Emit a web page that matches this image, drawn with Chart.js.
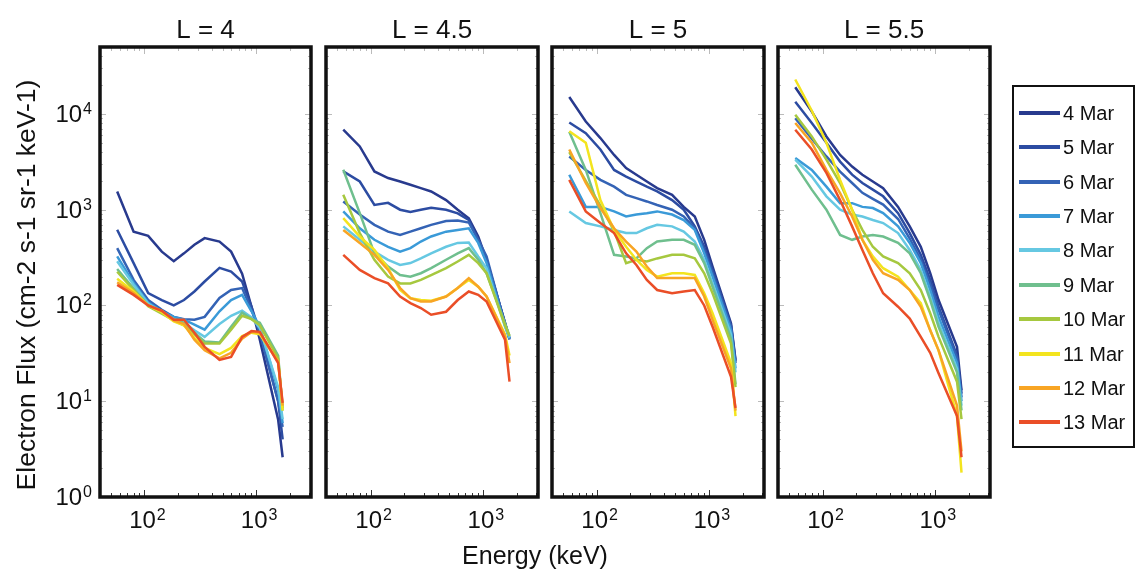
<!DOCTYPE html>
<html>
<head>
<meta charset="utf-8">
<script src="https://cdn.jsdelivr.net/npm/chart.js@4"></script>
<style>
  html, body { margin: 0; padding: 0; background: #fff; }
  #page { position: relative; width: 1143px; height: 582px; overflow: hidden; font-family: "Liberation Sans", Arial, sans-serif; }
  #page canvas { position: absolute; left: 0; top: 0; }
  #leyenda { position: absolute; left: 1012px; top: 85px; width: 119px; height: 359px; border: 2.5px solid #111; }
  .fila { position: absolute; left: 0; height: 22px; }
  .fila .linea { position: absolute; left: 5px; top: 9px; width: 41px; height: 4px; }
  .fila .texto { position: absolute; left: 49px; top: 0; font-size: 20px; line-height: 22px; color: #111; white-space: nowrap; }
</style>
</head>
<body>
<div id="page">
  <canvas id="c0" width="1143" height="582"></canvas>
  <canvas id="c1" width="1143" height="582"></canvas>
  <canvas id="c2" width="1143" height="582"></canvas>
  <canvas id="c3" width="1143" height="582"></canvas>
  <div id="leyenda"></div>
</div>
<script>
// Canales de energía (keV)
const energias = [57, 80, 108, 143, 183, 226, 280, 346, 470, 597, 749, 909, 1079, 1575, 1728];

const dias = ['4 Mar', '5 Mar', '6 Mar', '7 Mar', '8 Mar', '9 Mar', '10 Mar', '11 Mar', '12 Mar', '13 Mar'];
const coloresDias = ['#283a8e', '#2c4ca2', '#3463b5', '#3a9ad8', '#66c8e2', '#6fbf8e', '#a6c83f', '#f3e41e', '#f8a524', '#ea4e27'];

const titulos = ['L = 4', 'L = 4.5', 'L = 5', 'L = 5.5'];

// Flujo de electrones (cm-2 s-1 sr-1 keV-1), una fila por día
const flujoL4 = [
  [1550, 590, 533, 365, 290, 350, 430, 505, 465, 365, 215, 97, 44, 6.4, 2.6],
  [617, 277, 135, 114, 100, 114, 140, 178, 247, 226, 178, 97, 52, 10, 4],
  [397, 185, 114, 90, 76, 72, 71, 76, 120, 145, 152, 90, 52, 10, 5.4],
  [325, 172, 107, 87, 76, 71, 63, 56, 87, 114, 129, 87, 60, 13, 5.9],
  [290, 165, 105, 85, 72, 66, 55, 47, 64, 78, 88, 75, 58, 14, 6.5],
  [240, 150, 100, 85, 72, 66, 52, 42, 41, 60, 84, 72, 66, 30, 8],
  [225, 145, 98, 82, 70, 62, 50, 40, 40, 56, 78, 72, 62, 28, 8.5],
  [190, 140, 100, 85, 68, 62, 46, 36, 31, 36, 48, 52, 50, 26, 8],
  [175, 135, 100, 88, 70, 64, 44, 34, 28, 32, 45, 53, 52, 26, 9],
  [164, 129, 100, 88, 71, 71, 52, 37, 27, 29, 47, 54, 53, 25, 9.6]
];

const flujoL45 = [
  [6840, 4580, 2510, 2140, 1970, 1820, 1680, 1550, 1260, 1000, 815, 525, 300, 66, 45],
  [2510, 1970, 1120, 1180, 1000, 945, 1000, 1050, 1000, 915, 780, 485, 300, 66, 45],
  [1220, 890, 695, 590, 545, 590, 640, 695, 760, 770, 735, 485, 325, 64, 44],
  [960, 640, 485, 410, 365, 397, 465, 525, 590, 615, 640, 450, 277, 62, 45],
  [670, 485, 365, 300, 265, 277, 310, 350, 410, 450, 455, 325, 245, 60, 46],
  [2610, 920, 350, 255, 208, 200, 217, 245, 300, 350, 397, 300, 217, 65, 48],
  [1430, 570, 300, 200, 170, 170, 185, 208, 245, 288, 338, 277, 217, 62, 48],
  [815, 525, 380, 245, 145, 119, 114, 112, 124, 152, 185, 157, 124, 50, 30],
  [615, 450, 338, 235, 152, 119, 110, 110, 124, 152, 193, 157, 124, 48, 25],
  [338, 235, 193, 170, 124, 106, 94, 80, 86, 114, 140, 129, 110, 44, 16]
];

const flujoL5 = [
  [15000, 8330, 5600, 3730, 2720, 2320, 1970, 1680, 1430, 1070, 850, 485, 255, 65, 27],
  [8150, 6300, 4250, 2600, 2220, 1970, 1740, 1550, 1260, 1000, 670, 410, 235, 62, 26],
  [3600, 2600, 2050, 1740, 1430, 1320, 1220, 1120, 1000, 850, 640, 380, 217, 60, 25],
  [2320, 1070, 1070, 960, 850, 890, 920, 960, 890, 780, 615, 350, 200, 55, 22],
  [960, 725, 670, 615, 570, 570, 640, 695, 670, 590, 465, 300, 170, 50, 20],
  [6500, 2600, 920, 338, 325, 310, 397, 465, 485, 485, 430, 277, 157, 45, 15],
  [4000, 2000, 1100, 600, 277, 300, 288, 310, 338, 338, 310, 217, 134, 40, 14],
  [6600, 5000, 1260, 615, 410, 300, 235, 200, 217, 217, 208, 134, 83, 25, 7],
  [4250, 1900, 1040, 640, 465, 365, 255, 193, 193, 193, 193, 124, 71, 22, 8],
  [2050, 960, 725, 570, 350, 265, 185, 145, 134, 140, 145, 100, 60, 18, 8.5]
];

const flujoL55 = [
  [19000, 10600, 5820, 3730, 2820, 2320, 1970, 1680, 1070, 670, 410, 217, 114, 37, 13],
  [13400, 8030, 5000, 3180, 2320, 1900, 1620, 1380, 920, 570, 338, 185, 97, 30, 12],
  [9000, 5500, 3600, 2500, 1900, 1500, 1300, 1130, 800, 500, 300, 165, 90, 28, 11],
  [3470, 2600, 1740, 1170, 1170, 1070, 1040, 920, 670, 450, 277, 145, 76, 25, 10],
  [3330, 2220, 1380, 1000, 890, 850, 780, 725, 570, 380, 235, 124, 66, 22, 9],
  [2950, 1620, 1000, 545, 485, 525, 545, 525, 450, 350, 217, 114, 60, 20, 8],
  [9800, 5820, 3330, 1900, 1000, 615, 410, 325, 277, 217, 145, 83, 47, 16, 6.5],
  [22900, 10800, 5000, 2050, 1000, 485, 325, 245, 200, 145, 106, 55, 34, 7, 1.8],
  [8030, 5000, 2600, 1490, 850, 485, 300, 217, 185, 145, 97, 55, 34, 9, 3],
  [6840, 4250, 2420, 1260, 670, 380, 217, 134, 97, 73, 47, 32, 19.6, 7, 2.6]
];

const flujos = [flujoL4, flujoL45, flujoL5, flujoL55];

// Ticks de los ejes
const ticksX = [100, 1000];
const ticksXMenores = [50, 60, 70, 80, 90, 200, 300, 400, 500, 600, 700, 800, 900, 2000, 3000];
const ticksY = [1, 10, 100, 1000, 10000];

// Bordes horizontales de cada panel (px)
const panelesX = [[100, 311], [326, 538], [552, 764], [778, 990]];
const areaArriba = 47, areaAbajo = 497;

const FUENTE = '"Liberation Sans", Arial, sans-serif';

// Dibuja "10" con el exponente en superíndice
function potencia(ctx, exp, x, y, alinear) {
  ctx.font = '24px ' + FUENTE;
  const wBase = ctx.measureText('10').width;
  ctx.font = '16px ' + FUENTE;
  const wExp = ctx.measureText(String(exp)).width;
  const total = wBase + wExp + 1;
  let x0 = x;
  if (alinear === 'center') x0 = x - total / 2;
  if (alinear === 'right') x0 = x - total;
  ctx.fillStyle = '#111';
  ctx.textAlign = 'left';
  ctx.textBaseline = 'alphabetic';
  ctx.font = '24px ' + FUENTE;
  ctx.fillText('10', x0, y);
  ctx.font = '16px ' + FUENTE;
  ctx.fillText(String(exp), x0 + wBase + 1, y - 8);
}

const marcoPanel = {
  id: 'marcoPanel',
  afterDatasetsDraw(chart, args, opts) {
    const { ctx, chartArea: a, scales: { x, y } } = chart;
    ctx.save();

    // ticks menores y mayores, hacia dentro
    ctx.lineWidth = 1;
    const ticksEjeX = ticksX.map(v => [v, 7]).concat(ticksXMenores.map(v => [v, 4]));
    ticksEjeX.forEach(([v, largo]) => {
      const px = Math.round(x.getPixelForValue(v)) + 0.5;
      ctx.strokeStyle = '#333';
      ctx.beginPath();
      ctx.moveTo(px, a.bottom);
      ctx.lineTo(px, a.bottom - largo);
      ctx.stroke();
      ctx.strokeStyle = '#bbb';
      ctx.beginPath();
      ctx.moveTo(px, a.top);
      ctx.lineTo(px, a.top + largo);
      ctx.stroke();
    });
    ctx.strokeStyle = '#bbb';
    for (let d = 1; d < 100000; d *= 10) {
      for (let m = 1; m <= 9; m++) {
        const v = d * m;
        if (v > 50000) break;
        const largo = m === 1 ? 6 : 3;
        const py = Math.round(y.getPixelForValue(v)) + 0.5;
        ctx.beginPath();
        ctx.moveTo(a.left, py);
        ctx.lineTo(a.left + largo, py);
        ctx.moveTo(a.right, py);
        ctx.lineTo(a.right - largo, py);
        ctx.stroke();
      }
    }

    // marco
    ctx.strokeStyle = '#111';
    ctx.lineWidth = 3.5;
    ctx.strokeRect(a.left, a.top, a.right - a.left, a.bottom - a.top);

    // etiquetas del eje x
    ticksX.forEach(v => {
      potencia(ctx, Math.round(Math.log10(v)), x.getPixelForValue(v) + 3, 528, 'center');
    });

    // título del panel
    ctx.fillStyle = '#111';
    ctx.font = '26px ' + FUENTE;
    ctx.textAlign = 'center';
    ctx.textBaseline = 'alphabetic';
    ctx.fillText(opts.titulo, (a.left + a.right) / 2, 38);

    if (opts.primero) {
      ticksY.forEach(v => {
        potencia(ctx, Math.round(Math.log10(v)), a.left - 8, y.getPixelForValue(v) + 8, 'right');
      });
      ctx.fillStyle = '#111';
      ctx.textAlign = 'center';
      ctx.font = '26.5px ' + FUENTE;
      ctx.save();
      ctx.translate(35, 285);
      ctx.rotate(-Math.PI / 2);
      ctx.fillText('Electron Flux (cm-2 s-1 sr-1 keV-1)', 0, 0);
      ctx.restore();
      ctx.font = '25px ' + FUENTE;
      ctx.fillText('Energy (keV)', 535, 564);
    }
    ctx.restore();
  }
};

function crearPanel(i) {
  const [izq, der] = panelesX[i];
  const datasets = flujos[i].map((fila, d) => ({
    label: dias[d],
    data: energias.map((e, k) => ({ x: e, y: fila[k] })),
    borderColor: coloresDias[d],
    borderWidth: 2.5,
    pointRadius: 0,
    tension: 0,
    fill: false,
    order: dias.length - 1 - d
  }));

  new Chart(document.getElementById('c' + i), {
    type: 'line',
    data: { datasets },
    options: {
      responsive: false,
      animation: false,
      events: [],
      layout: { padding: { left: izq, right: 1143 - der, top: areaArriba, bottom: 582 - areaAbajo } },
      scales: {
        x: { type: 'logarithmic', min: 40, max: 3100, display: false },
        y: { type: 'logarithmic', min: 1, max: 50000, display: false }
      },
      plugins: {
        legend: { display: false },
        tooltip: { enabled: false },
        marcoPanel: { titulo: titulos[i], primero: i === 0 }
      }
    },
    plugins: [marcoPanel]
  });
}

[0, 1, 2, 3].forEach(crearPanel);

// Leyenda con los días
const leyenda = document.getElementById('leyenda');
dias.forEach((dia, d) => {
  const fila = document.createElement('div');
  fila.className = 'fila';
  fila.style.top = (113.3 + d * 34.4 - 87.5 - 11) + 'px';
  fila.innerHTML = `<div class="linea" style="background:${coloresDias[d]}"></div><div class="texto">${dia}</div>`;
  leyenda.appendChild(fila);
});
</script>
</body>
</html>
